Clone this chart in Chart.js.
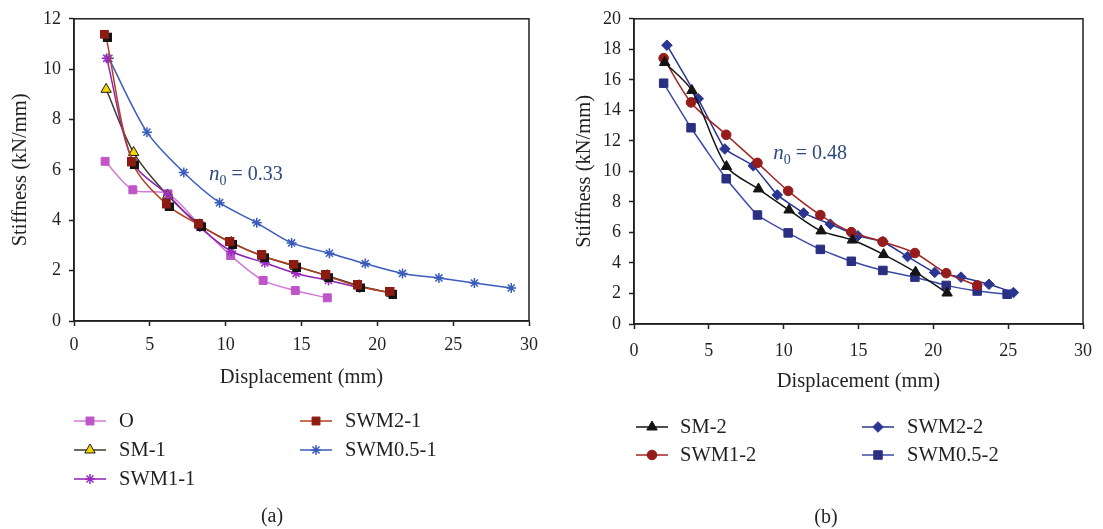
<!DOCTYPE html>
<html>
<head>
<meta charset="utf-8">
<title>Stiffness vs displacement</title>
<script src="https://cdn.jsdelivr.net/npm/chart.js@4.4.0/dist/chart.umd.min.js"></script>
<style>
  body { margin: 0; background: #fff; }
  .panel { position: absolute; top: 0; height: 529px; }
  #pa { left: 0; width: 551px; }
  #pb { left: 551px; width: 552px; }
</style>
</head>
<body>
<div class="panel" id="pa"><canvas id="chartA"></canvas></div>
<div class="panel" id="pb"><canvas id="chartB"></canvas></div>
<script>
// ---- panel (a): n0 = 0.33 ----
var oX      = [2.05, 3.88, 6.2, 8.3, 10.33, 12.47, 14.59, 16.7];
var oY      = [6.34, 5.21, 5.05, 3.8, 2.6, 1.61, 1.21, 0.92];
var sm1X    = [2.12, 3.93, 6.18, 8.3, 10.37, 12.47, 14.6, 16.7, 18.8, 20.93];
var sm1Y    = [9.2, 6.69, 4.99, 3.82, 3.12, 2.57, 2.17, 1.8, 1.4, 1.1];
var swm11X  = [2.16, 3.9, 6.2, 8.3, 10.37, 12.58, 14.64, 16.78, 18.83];
var swm11Y  = [10.43, 6.3, 5.0, 3.73, 2.77, 2.31, 1.89, 1.61, 1.32];
var swm21X  = [2.1, 3.88, 6.18, 8.3, 10.37, 12.47, 14.59, 16.7, 18.79, 20.93];
var swm21Y  = [11.33, 6.26, 4.59, 3.8, 3.1, 2.57, 2.2, 1.78, 1.37, 1.12];
var swm051X = [2.3, 4.81, 7.24, 9.6, 12.05, 14.35, 16.84, 19.2, 21.66, 24.06, 26.4, 28.83];
var swm051Y = [10.43, 7.5, 5.9, 4.7, 3.9, 3.1, 2.69, 2.28, 1.89, 1.71, 1.51, 1.31];

// ---- panel (b): n0 = 0.48 ----
var sm2X    = [2.05, 3.87, 6.18, 8.32, 10.36, 12.5, 14.59, 16.68, 18.81, 20.92];
var sm2Y    = [17.14, 15.3, 10.32, 8.85, 7.47, 6.1, 5.5, 4.55, 3.4, 2.03];
var swm12X  = [1.98, 3.81, 6.16, 8.25, 10.3, 12.45, 14.52, 16.61, 18.77, 20.86, 22.93];
var swm12Y  = [17.42, 14.52, 12.4, 10.56, 8.72, 7.14, 6.02, 5.39, 4.65, 3.33, 2.53];
var swm22X  = [2.2, 4.29, 6.07, 7.97, 9.57, 11.33, 13.12, 14.96, 16.63, 18.28, 20.09, 21.85, 23.72, 25.35];
var swm22Y  = [18.27, 14.76, 11.47, 10.37, 8.46, 7.27, 6.54, 5.78, 5.39, 4.42, 3.38, 3.07, 2.6, 2.06];
var swm052X = [1.98, 3.81, 6.16, 8.25, 10.3, 12.45, 14.52, 16.63, 18.77, 20.86, 22.93, 24.93];
var swm052Y = [15.78, 12.86, 9.52, 7.14, 5.97, 4.89, 4.11, 3.51, 3.07, 2.53, 2.16, 1.95];

var xTicks = [0, 5, 10, 15, 20, 25, 30];

var SERIF = '"Liberation Serif", "Times New Roman", serif';
var INK = '#231f20';

function pts(xs, ys) {
  return xs.map(function (x, i) { return { x: x, y: ys[i] }; });
}

// square marker with a dark drop shadow (used for SWM2-1)
function shadowSquare(fill, size) {
  var c = document.createElement('canvas');
  c.width = size + 3; c.height = size + 3;
  var g = c.getContext('2d');
  g.fillStyle = '#141414'; g.fillRect(3, 3, size, size);
  g.fillStyle = fill; g.fillRect(0, 0, size, size);
  return c;
}

function series(label, xs, ys, line, fill, style, r, extra) {
  var ds = {
    label: label, data: pts(xs, ys),
    borderColor: line, borderWidth: 1.5,
    pointStyle: style, pointRadius: r, pointHoverRadius: r,
    pointBackgroundColor: fill, pointBorderColor: fill, pointBorderWidth: 1,
    tension: 0.3, fill: false
  };
  for (var k in extra) ds[k] = extra[k];
  return ds;
}

// box around the plotting area
var framePlugin = {
  id: 'frame',
  beforeDatasetsDraw: function (chart) {
    var a = chart.chartArea, ctx = chart.ctx;
    ctx.save();
    ctx.strokeStyle = INK; ctx.lineWidth = 1.5;
    ctx.strokeRect(a.left, a.top, a.right - a.left, a.bottom - a.top);
    ctx.restore();
  }
};

// n0 note, two-column legend and panel caption
var notesPlugin = {
  id: 'notes',
  afterDraw: function (chart, args, opts) {
    var ctx = chart.ctx;
    var xs = chart.scales.x, ys = chart.scales.y;
    ctx.save();
    ctx.textBaseline = 'alphabetic';
    ctx.fillStyle = '#2e4a7d';
    var nx = xs.getPixelForValue(opts.note.x), ny = ys.getPixelForValue(opts.note.y);
    ctx.font = 'italic 21px ' + SERIF;
    ctx.fillText('n', nx, ny);
    nx += ctx.measureText('n').width;
    ctx.font = '14px ' + SERIF;
    ctx.fillText('0', nx, ny + 5);
    nx += ctx.measureText('0').width;
    ctx.font = '20px ' + SERIF;
    ctx.fillText(' = ' + opts.note.text, nx, ny);

    ctx.textBaseline = 'middle';
    opts.legend.forEach(function (it) {
      var ds = chart.data.datasets[it.ds];
      var x0 = it.x, y0 = it.y;
      ctx.strokeStyle = ds.borderColor; ctx.lineWidth = 1.5;
      ctx.beginPath(); ctx.moveTo(x0, y0); ctx.lineTo(x0 + 32, y0); ctx.stroke();
      ctx.fillStyle = ds.pointBackgroundColor;
      ctx.strokeStyle = ds.pointBorderColor;
      ctx.lineWidth = ds.pointBorderWidth;
      Chart.helpers.drawPoint(ctx, {
        pointStyle: ds.legendStyle || ds.pointStyle, rotation: 0,
        radius: ds.legendRadius || ds.pointRadius, borderWidth: ds.pointBorderWidth
      }, x0 + 16, y0);
      ctx.fillStyle = INK;
      ctx.font = '20.5px ' + SERIF;
      ctx.textAlign = 'left';
      ctx.fillText(ds.label, it.tx, y0 + 1);
    });

    ctx.textAlign = 'center';
    ctx.fillStyle = INK;
    ctx.font = '20px ' + SERIF;
    ctx.fillText(opts.caption.text, opts.caption.x, opts.caption.y);
    ctx.restore();
  }
};

function makeScales(yMax, yStep, yWidth, yTitlePad, xTitlePad, xLabelPad) {
  return {
    x: {
      type: 'linear', min: 0, max: 30,
      afterBuildTicks: function (s) { s.ticks = xTicks.map(function (v) { return { value: v }; }); },
      ticks: { color: INK, font: { family: SERIF, size: 18 }, padding: xLabelPad, maxRotation: 0 },
      grid: { drawOnChartArea: false, drawTicks: true, tickLength: 5, tickColor: INK, tickWidth: 1.5 },
      border: { display: true, color: INK, width: 1.5 },
      title: { display: true, text: 'Displacement (mm)', color: INK,
               font: { family: SERIF, size: 20.5 }, padding: { top: 0, bottom: xTitlePad } },
      afterFit: function (s) { s.height = 70; }
    },
    y: {
      type: 'linear', min: 0, max: yMax,
      ticks: { stepSize: yStep, color: INK, font: { family: SERIF, size: 18 }, padding: 8 },
      grid: { drawOnChartArea: false, drawTicks: true, tickLength: 5, tickColor: INK, tickWidth: 1.5 },
      border: { display: true, color: INK, width: 1.5 },
      title: { display: true, text: 'Stiffness (kN/mm)', color: INK,
               font: { family: SERIF, size: 20.5 }, padding: { top: yTitlePad, bottom: 0 } },
      afterFit: function (s) { s.width = yWidth; }
    }
  };
}

Chart.defaults.font.family = SERIF;

new Chart(document.getElementById('chartA'), {
  type: 'line',
  data: {
    datasets: [
      series('O', oX, oY, '#d27ad6', '#bf55c8', 'rect', 5.6, { order: 4 }),
      series('SM-1', sm1X, sm1Y, '#3a3a2c', '#f2d400', 'triangle', 6, { order: 2, pointBorderColor: '#1e1e1e' }),
      series('SWM1-1', swm11X, swm11Y, '#8e22b0', '#9a2cc2', 'star', 5, { order: 1, pointBorderWidth: 1.5 }),
      series('SWM2-1', swm21X, swm21Y, '#b4401f', '#8c1c12', shadowSquare('#8c1c12', 9), 6,
             { order: 0, legendStyle: 'rect', legendRadius: 5.6 }),
      series('SWM0.5-1', swm051X, swm051Y, '#3a5cbc', '#3a5cbc', 'star', 5, { order: 3, pointBorderWidth: 1.5 })
    ]
  },
  options: {
    responsive: true, maintainAspectRatio: false, animation: false,
    layout: { padding: { left: 0, right: 22, top: 16, bottom: 138 } },
    scales: makeScales(12, 2, 74, 8, 1, 8),
    plugins: {
      legend: { display: false }, tooltip: { enabled: false },
      notes: {
        note: { x: 8.9, y: 5.6, text: '0.33' },
        legend: [
          { ds: 0, x: 74, y: 421, tx: 119 },
          { ds: 1, x: 74, y: 450, tx: 119 },
          { ds: 2, x: 74, y: 479, tx: 119 },
          { ds: 3, x: 300, y: 421, tx: 345 },
          { ds: 4, x: 300, y: 450, tx: 345 }
        ],
        caption: { text: '(a)', x: 272, y: 517 }
      }
    }
  },
  plugins: [framePlugin, notesPlugin]
});

new Chart(document.getElementById('chartB'), {
  type: 'line',
  data: {
    datasets: [
      series('SM-2', sm2X, sm2Y, '#141414', '#141414', 'triangle', 6, { order: 0 }),
      series('SWM1-2', swm12X, swm12Y, '#a12626', '#961b1b', 'circle', 4.8, { order: 1 }),
      series('SWM2-2', swm22X, swm22Y, '#2b3592', '#2b3592', 'rectRot', 5.3, { order: 2, tension: 0.1 }),
      series('SWM0.5-2', swm052X, swm052Y, '#3d4aa6', '#2a2f82', 'rect', 6, { order: 3, tension: 0.1 })
    ]
  },
  options: {
    responsive: true, maintainAspectRatio: false, animation: false,
    layout: { padding: { left: 0, right: 15, top: 16, bottom: 135 } },
    scales: makeScales(20, 2, 83, 21, 0, 11),
    plugins: {
      legend: { display: false }, tooltip: { enabled: false },
      notes: {
        note: { x: 9.3, y: 10.8, text: '0.48' },
        legend: [
          { ds: 0, x: 85, y: 427, tx: 129 },
          { ds: 1, x: 85, y: 455, tx: 129 },
          { ds: 2, x: 311, y: 427, tx: 356 },
          { ds: 3, x: 311, y: 455, tx: 356 }
        ],
        caption: { text: '(b)', x: 275, y: 518 }
      }
    }
  },
  plugins: [framePlugin, notesPlugin]
});
</script>
</body>
</html>
